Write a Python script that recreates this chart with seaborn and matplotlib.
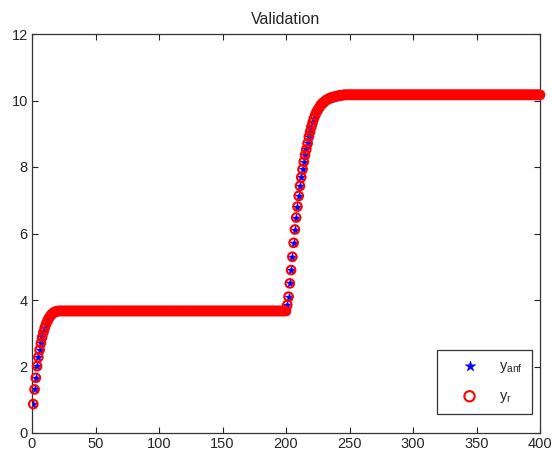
import numpy as np
import pandas as pd
import matplotlib
matplotlib.use('Agg')
import matplotlib.pyplot as plt
import seaborn as sns

##################### data ##############################################################

# sample index
sample = list(range(1, 401))

# first rise (samples 1..20) then flat level up to sample 200
rise_1 = [0.87, 1.31, 1.66, 2.01, 2.28, 2.50, 2.70, 2.88, 3.03, 3.16,
          3.27, 3.36, 3.44, 3.50, 3.55, 3.59, 3.62, 3.64, 3.655, 3.665]
level_1 = 3.67

# second rise (samples 201..245) then flat level up to sample 400
rise_2 = [3.85, 4.10, 4.50, 4.90, 5.30, 5.72, 6.12, 6.48, 6.81, 7.13,
          7.43, 7.69, 7.93, 8.16, 8.36, 8.53, 8.71, 8.91, 9.06, 9.21,
          9.34, 9.46, 9.56, 9.65, 9.72, 9.78, 9.84, 9.89, 9.93, 9.96,
          9.99, 10.02, 10.04, 10.06, 10.08, 10.09, 10.10, 10.11, 10.12, 10.13,
          10.14, 10.15, 10.155, 10.16, 10.165]
level_2 = 10.17

y_r = rise_1 + [level_1] * (200 - len(rise_1)) + rise_2 + [level_2] * (200 - len(rise_2))
y_anf = list(y_r)

x_ticks = [0, 50, 100, 150, 200, 250, 300, 350, 400]
y_ticks = [0, 2, 4, 6, 8, 10, 12]

df = pd.DataFrame({'k': sample, 'y_anf': y_anf, 'y_r': y_r})

##################### plot #######################################

sns.set_style('ticks')
plt.rcParams['font.family'] = ['Liberation Sans', 'DejaVu Sans']
plt.rcParams['xtick.direction'] = 'in'
plt.rcParams['ytick.direction'] = 'in'
plt.rcParams['xtick.top'] = True
plt.rcParams['ytick.right'] = True

fig = plt.figure(figsize=(5.53, 4.53), dpi=100)
ax = fig.add_axes([32/553, 20/453, 508/553, 399/453])

sns.scatterplot(x='k', y='y_anf', data=df, marker='*', color='#0000ff', s=45,
                edgecolor='#0000ff', linewidth=0.3, ax=ax, label=r'$\mathregular{y_{anf}}$', zorder=2)
sns.scatterplot(x='k', y='y_r', data=df, marker='o', facecolors='none', edgecolors='#ff0000',
                s=38, linewidth=1.5, ax=ax, label=r'$\mathregular{y_r}$', zorder=3, clip_on=False)

ax.set_xlim([0, 400])
ax.set_ylim([0, 12])
ax.set_xticks(x_ticks)
ax.set_yticks(y_ticks)
ax.tick_params(labelsize=10.5, length=4, width=0.8, color='#222222', pad=3)
for sp in ax.spines.values():
    sp.set_visible(True)
    sp.set_color('#333333')
    sp.set_linewidth(0.9)
ax.set_xlabel('')
ax.set_ylabel('')
ax.set_title('Validation', fontsize=11.5, pad=7)

leg = ax.legend(loc='lower right', bbox_to_anchor=(0.984, 0.048), borderaxespad=0,
                fancybox=False, framealpha=1, edgecolor='#333333', fontsize=10.5,
                borderpad=0.6, labelspacing=1.0, handlelength=3.2, handletextpad=0.45,
                markerscale=1.2)
leg.get_frame().set_linewidth(0.9)

fig.savefig('out.png', dpi=100)
